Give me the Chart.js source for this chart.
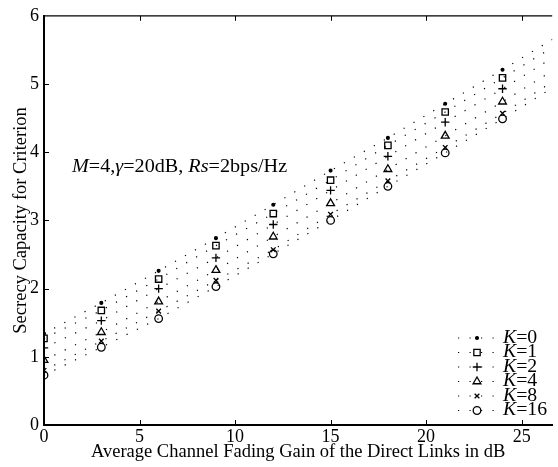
<!DOCTYPE html>
<html><head><meta charset="utf-8">
<script src="https://cdn.jsdelivr.net/npm/chart.js@4/dist/chart.umd.min.js"></script>
<style>html,body{margin:0;padding:0;background:#fff}canvas{display:block}</style>
</head><body>
<canvas id="c" width="558" height="467"></canvas>
<script>
const gainDb = [0, 3, 6, 9, 12, 15, 18, 21, 24, 27];
const capK0  = [1.34, 1.79, 2.26, 2.74, 3.23, 3.73, 4.21, 4.71, 5.21, 5.72];
const capK1  = [1.27, 1.68, 2.14, 2.63, 3.10, 3.59, 4.10, 4.59, 5.09, 5.60];
const capK2  = [1.13, 1.53, 2.00, 2.45, 2.94, 3.44, 3.94, 4.44, 4.93, 5.45];
const capK4  = [0.95, 1.36, 1.81, 2.27, 2.76, 3.25, 3.75, 4.24, 4.74, 5.26];
const capK8  = [0.80, 1.23, 1.67, 2.12, 2.57, 3.09, 3.58, 4.07, 4.57, 5.10];
const capK16 = [0.73, 1.14, 1.56, 2.03, 2.51, 3.00, 3.50, 3.99, 4.49, 5.01];
const kLabels = ['0', '1', '2', '4', '8', '16'];
const xTicks = [0, 5, 10, 15, 20, 25];
const yTicks = [0, 1, 2, 3, 4, 5, 6];

const SERIF = '"Liberation Serif", "Times New Roman", serif';
const seriesData = [capK0, capK1, capK2, capK4, capK8, capK16];
const markers = [
  {style: 'circle', r: 1.4, fill: '#000'},
  {style: 'rect', r: 4.5, fill: 'rgba(0,0,0,0)'},
  {style: 'cross', r: 4.2, fill: 'rgba(0,0,0,0)'},
  {style: 'triangle', r: 4.5, fill: 'rgba(0,0,0,0)'},
  {style: 'crossRot', r: 3.3, fill: 'rgba(0,0,0,0)'},
  {style: 'circle', r: 3.8, fill: 'rgba(0,0,0,0)'}
];
const DASH = [1.2, 10.3];
const MW = 1.3;

const datasets = seriesData.map((vals, i) => ({
  label: 'K=' + kLabels[i],
  data: gainDb.map((x, j) => ({x: x, y: vals[j]})),
  borderColor: '#000',
  borderWidth: 1.2,
  borderDash: DASH,
  backgroundColor: markers[i].fill,
  pointStyle: markers[i].style,
  pointRadius: markers[i].r,
  pointBorderColor: '#000',
  pointBackgroundColor: markers[i].fill,
  pointBorderWidth: MW,
  tension: 0,
  fill: false
}));

function drawRich(ctx, parts, x, y, size, sx) {
  ctx.save();
  ctx.translate(x, y);
  ctx.scale(sx, 1);
  ctx.textBaseline = 'middle';
  ctx.textAlign = 'left';
  let cx = 0;
  for (const p of parts) {
    ctx.font = (p.i ? 'italic ' : '') + size + 'px ' + SERIF;
    ctx.fillText(p.t, cx, 0);
    cx += ctx.measureText(p.t).width;
  }
  ctx.restore();
}

const decor = {
  id: 'decor',
  afterDraw(chart) {
    const ctx = chart.ctx;
    const a = chart.chartArea;
    const xs = chart.scales.x, ys = chart.scales.y;
    ctx.save();
    ctx.strokeStyle = '#000';
    ctx.lineWidth = 1.3;
    ctx.beginPath();
    ctx.moveTo(a.left, a.top); ctx.lineTo(a.right, a.top);
    ctx.stroke();
    ctx.lineWidth = 1;
    ctx.beginPath();
    for (const t of xTicks) {
      const px = Math.round(xs.getPixelForValue(t)) + 0.5;
      if (t === 0) continue;
      ctx.moveTo(px, a.bottom); ctx.lineTo(px, a.bottom - 5);
      ctx.moveTo(px, a.top); ctx.lineTo(px, a.top + 5);
    }
    for (const t of yTicks) {
      const py = Math.round(ys.getPixelForValue(t)) + 0.5;
      if (t === 0 || t === 6) continue;
      ctx.moveTo(a.left, py); ctx.lineTo(a.left + 5, py);
    }
    ctx.stroke();
    ctx.fillStyle = '#000';
    drawRich(ctx, [
      {t: 'M', i: true}, {t: '=4,'}, {t: 'γ', i: true}, {t: '=20dB, '},
      {t: 'Rs', i: true}, {t: '=2bps/Hz'}
    ], 72, 167, 18, 1.12);
    const lx0 = 458, lx1 = 497, mx = 477, tx = 503, ly0 = 338, dy = 14.5;
    for (let i = 0; i < 6; i++) {
      const y = ly0 + i * dy;
      ctx.save();
      ctx.strokeStyle = '#000';
      ctx.lineWidth = 1.2;
      ctx.setLineDash(DASH);
      ctx.beginPath();
      ctx.moveTo(lx0, y); ctx.lineTo(lx1, y);
      ctx.stroke();
      ctx.restore();
      ctx.save();
      ctx.strokeStyle = '#000';
      ctx.fillStyle = markers[i].fill;
      ctx.lineWidth = MW;
      Chart.helpers.drawPoint(ctx, {pointStyle: markers[i].style, radius: markers[i].r, rotation: 0, borderWidth: MW}, mx, y);
      ctx.restore();
      ctx.fillStyle = '#000';
      drawRich(ctx, [{t: 'K', i: true}, {t: '=' + kLabels[i]}], tx, y, 18, 1.1);
    }
    ctx.restore();
  }
};

new Chart(document.getElementById('c'), {
  type: 'line',
  data: {datasets: datasets},
  options: {
    responsive: false,
    animation: false,
    layout: {padding: {top: 15, right: 0, left: 0, bottom: 0}},
    plugins: {legend: {display: false}, tooltip: {enabled: false}},
    scales: {
      x: {
        type: 'linear', min: 0, max: 26.6,
        afterBuildTicks: s => { s.ticks = xTicks.map(v => ({value: v})); },
        afterFit: s => { s.height = 42; },
        grid: {display: true, drawOnChartArea: false, drawTicks: false},
        border: {display: true, color: '#000', width: 2},
        ticks: {color: '#000', font: {family: SERIF, size: 18}, padding: 1, maxRotation: 0},
        title: {display: true, text: 'Average Channel Fading Gain of the Direct Links in dB', color: '#000',
                font: {family: SERIF, size: 18.5}, padding: {top: 0, bottom: 4}}
      },
      y: {
        type: 'linear', min: 0, max: 6,
        afterBuildTicks: s => { s.ticks = yTicks.map(v => ({value: v})); },
        afterFit: s => { s.width = 44; },
        grid: {display: true, drawOnChartArea: false, drawTicks: false},
        border: {display: true, color: '#000', width: 2},
        ticks: {color: '#000', font: {family: SERIF, size: 18}, padding: 5},
        title: {display: true, text: 'Secrecy Capacity for Criterion', color: '#000',
                font: {family: SERIF, size: 18.5}, padding: {top: 10, bottom: 0}}
      }
    }
  },
  plugins: [decor]
});
</script>
</body></html>
